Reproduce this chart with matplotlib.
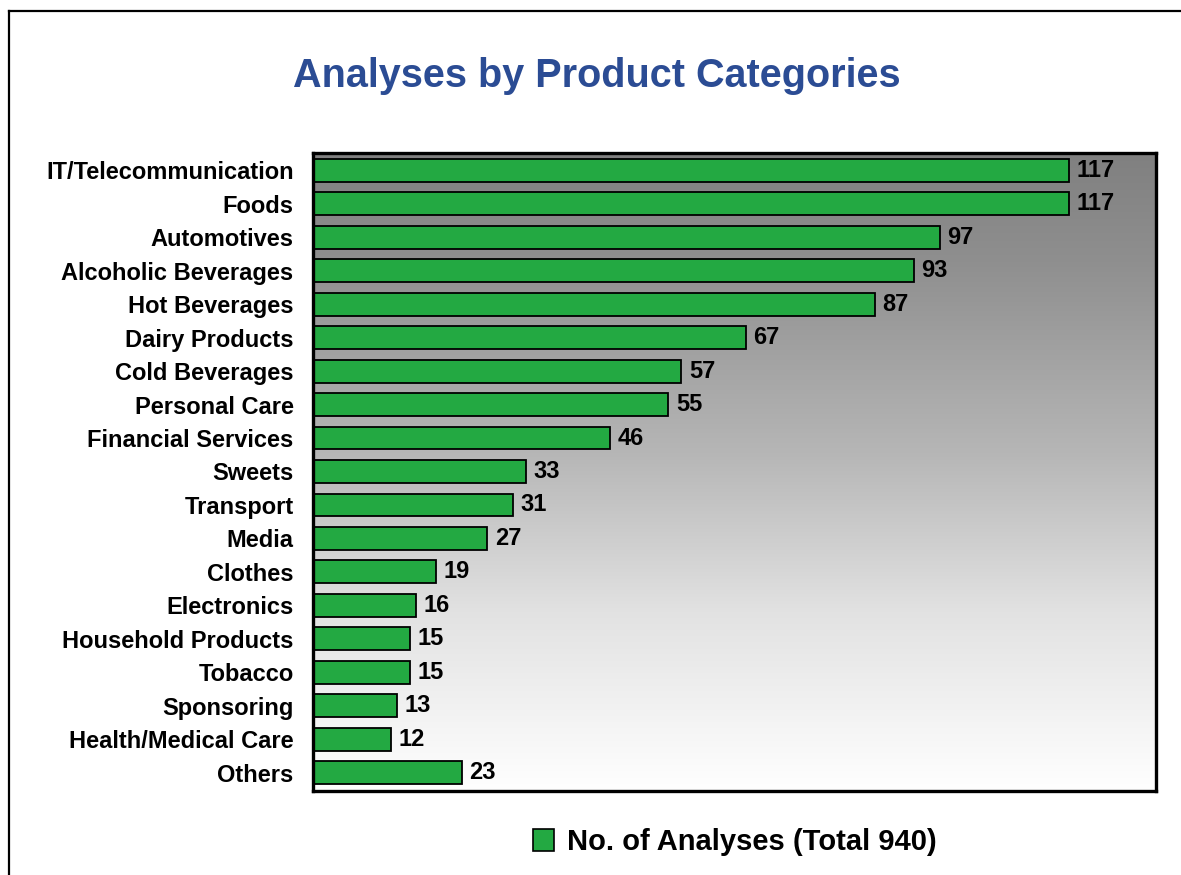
import numpy as np
import matplotlib
matplotlib.use("Agg")
import matplotlib.pyplot as plt
from matplotlib.patches import Patch
from matplotlib.lines import Line2D

categories = [
    "IT/Telecommunication", "Foods", "Automotives", "Alcoholic Beverages",
    "Hot Beverages", "Dairy Products", "Cold Beverages", "Personal Care",
    "Financial Services", "Sweets", "Transport", "Media", "Clothes",
    "Electronics", "Household Products", "Tobacco", "Sponsoring",
    "Health/Medical Care", "Others",
]
counts = [117, 117, 97, 93, 87, 67, 57, 55, 46, 33, 31, 27, 19, 16, 15, 15, 13, 12, 23]
series_label = "No. of Analyses (Total 940)"
title = "Analyses by Product Categories"

plt.rcParams["font.family"] = ["Liberation Sans", "DejaVu Sans"]

W, H = 1181, 875
fig = plt.figure(figsize=(W / 100, H / 100), dpi=100)
fig.patch.set_facecolor("white")

ax = fig.add_axes([313 / W, 1 - 791 / H, (1156 - 313) / W, (791 - 153) / H])

# vertical grey-to-white gradient behind the bars
bg_cmap = matplotlib.colors.LinearSegmentedColormap.from_list(
    "bg", [(0.0, "#808080"), (0.17, "#8f8f8f"), (0.47, "#b6b6b6"),
           (0.72, "#e2e2e2"), (1.0, "#ffffff")])
grad = np.linspace(0, 1, 256).reshape(-1, 1)
ax.imshow(grad, cmap=bg_cmap, aspect="auto",
          extent=[0, 1, 0, 1], transform=ax.transAxes, zorder=0, origin="upper")

n = len(categories)
ypos = np.arange(n)
bars = ax.barh(ypos, counts, height=0.68, color="#23a942", edgecolor="black",
               linewidth=1.3, zorder=2)
ax.bar_label(bars, labels=[str(c) for c in counts], padding=5.5,
             fontsize=17, fontweight="bold", color="black")

ax.set_xlim(0, 130.5)
ax.set_ylim(n - 0.45, -0.52)
ax.set_yticks(ypos)
ax.set_yticklabels(categories, fontsize=17, fontweight="bold")
ax.tick_params(axis="y", length=0, pad=14)
ax.set_xticks([])
for s in ax.spines.values():
    s.set_linewidth(2.4)
    s.set_color("black")

fig.text(597 / W, 1 - 76 / H, title, ha="center", va="center",
         fontsize=28.5, fontweight="bold", color="#2b4c94")

handle = Patch(facecolor="#23a942", edgecolor="black", linewidth=1.2)
fig.legend([handle], [series_label], loc="center",
           bbox_to_anchor=(735 / W, 1 - 842 / H), frameon=False,
           prop={"weight": "bold", "size": 21}, handlelength=0.7,
           handleheight=0.75, handletextpad=0.45)

# outer frame (left and top edges)
fig.add_artist(Line2D([8.5 / W, 8.5 / W], [0, 1 - 11 / H], color="black",
                      linewidth=1.6, transform=fig.transFigure))
fig.add_artist(Line2D([8.5 / W, 1], [1 - 11 / H, 1 - 11 / H], color="black",
                      linewidth=1.6, transform=fig.transFigure))

fig.savefig("out.png", dpi=100)
